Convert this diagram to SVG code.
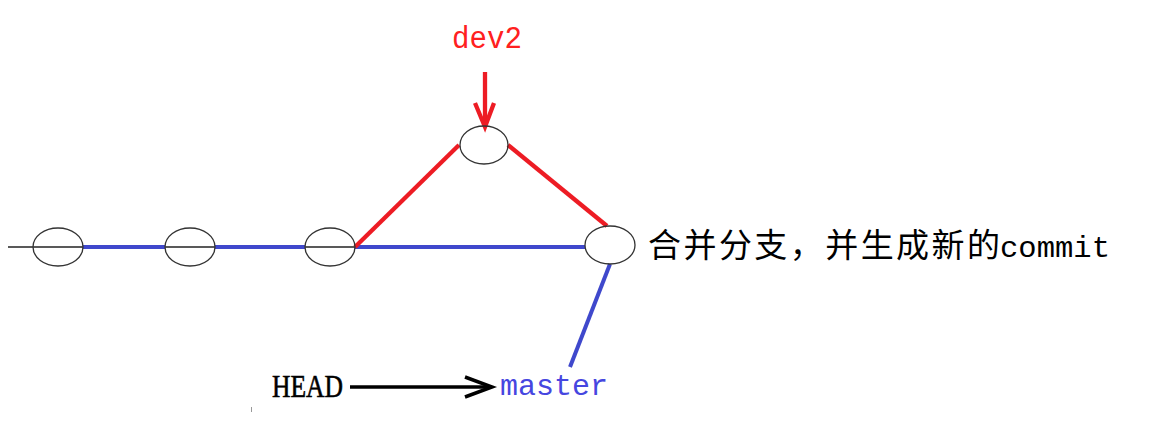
<svg xmlns="http://www.w3.org/2000/svg" width="1150" height="431" viewBox="0 0 1150 431">
<style>
.commit{fill:none;stroke:#333;stroke-width:1.3}
.blue{stroke:#3f48cc;stroke-width:4;fill:none}
.red{stroke:#ed1c24;stroke-width:4.3;fill:none}
.mono{font-family:"Liberation Mono","DejaVu Sans Mono",monospace}
</style>
<rect width="1150" height="431" fill="#fff"/>
<g id="connectors">
<line x1="8" y1="247" x2="355" y2="247" stroke="#222" stroke-width="1.3"/>
<line class="blue" x1="83" y1="247" x2="165" y2="247"/>
<line class="blue" x1="215" y1="247" x2="305" y2="247"/>
<line class="blue" x1="355" y1="247" x2="585" y2="247"/>
<line class="red" x1="355" y1="247" x2="459" y2="145"/>
<line class="red" x1="508" y1="145" x2="607" y2="226"/>
<line class="blue" x1="610" y1="264" x2="570" y2="367"/>
<g id="dev2-arrow" class="red">
<line x1="485" y1="72" x2="485" y2="126"/>
<polyline points="475,103 485,127 494,103" stroke-linejoin="miter"/>
</g>
<g id="head-arrow" stroke="#000" stroke-width="3.5" fill="none">
<line x1="350" y1="387" x2="491" y2="387"/>
<polyline points="465,377 492,387 465,397"/>
</g>
</g>
<g id="c1"><ellipse class="commit" cx="58" cy="247" rx="25" ry="19"/></g>
<g id="c2"><ellipse class="commit" cx="190" cy="247" rx="25" ry="19"/></g>
<g id="c3"><ellipse class="commit" cx="330" cy="247" rx="25" ry="19"/></g>
<g id="c4"><ellipse class="commit" cx="484" cy="145" rx="24" ry="19"/></g>
<g id="c5"><ellipse class="commit" cx="610" cy="245" rx="25" ry="19"/></g>
<g id="dev2"><text class="mono" x="452" y="48" font-size="31" fill="#ff2020" textLength="70" lengthAdjust="spacingAndGlyphs">dev2</text></g>
<g id="master"><text class="mono" x="500" y="395" font-size="30" fill="#4646e0" textLength="108" lengthAdjust="spacingAndGlyphs">master</text></g>
<g id="head"><text x="272" y="397" font-family="Liberation Serif,serif" font-size="32" fill="#000" stroke="#000" stroke-width="0.6" textLength="71" lengthAdjust="spacingAndGlyphs">HEAD</text></g>
<g id="label">
<text x="648" y="257" font-family="Noto Sans CJK SC,sans-serif" font-size="33" fill="#000" textLength="352" lengthAdjust="spacing">合并分支，并生成新的</text>
<text class="mono" x="1000" y="257" font-size="30" fill="#000" textLength="110" lengthAdjust="spacingAndGlyphs">commit</text>
</g>
<rect x="251" y="407" width="1" height="5" fill="#999"/>
</svg>
